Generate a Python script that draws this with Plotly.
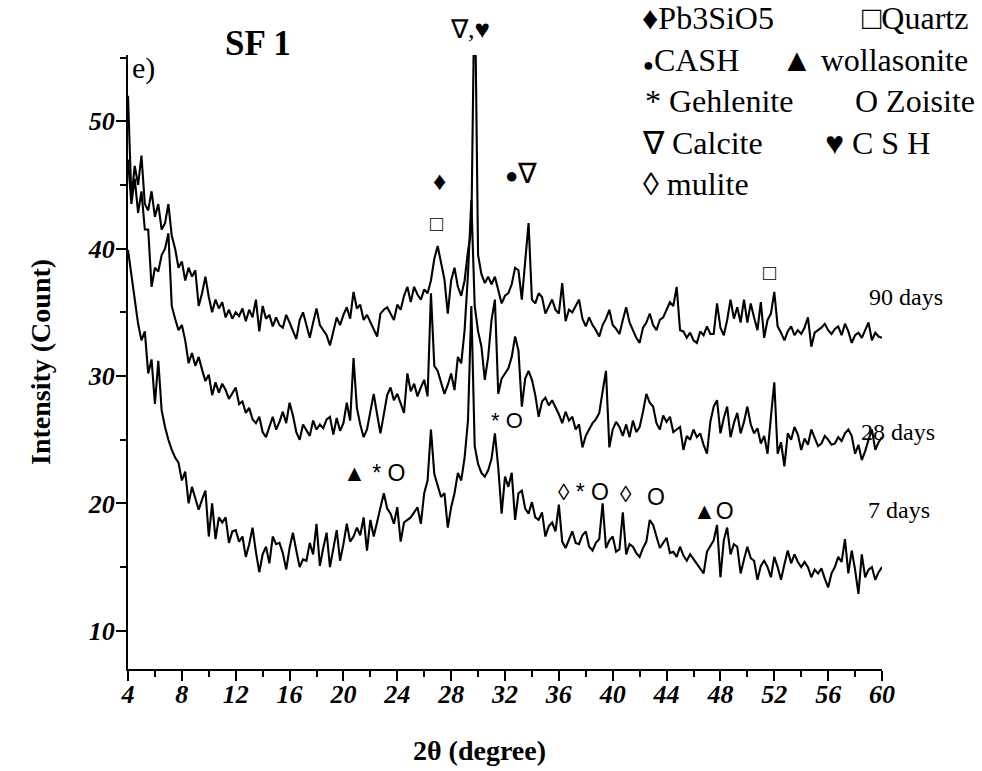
import plotly.graph_objects as go

# 2-theta sampling grid (degrees), 0.25 deg steps from 4 to 60
two_theta = [round(4 + 0.25 * i, 2) for i in range(225)]

# Intensity (Count), 8 values per row (2 degrees per row)
days_90 = [
    52, 44, 46.5, 45, 47.3, 43.5, 43, 44.5,            # 4
    42.5, 43.5, 41.5, 42, 43.5, 41, 40, 38.5,          # 6
    39, 37.5, 38.5, 37.8, 38.3, 35.5, 36.5, 37.8,      # 8
    36.2, 35, 36, 35.3, 35.8, 34.6, 35.2, 34.5,        # 10
    35, 34.7, 35.3, 34.3, 35.2, 34.6, 36, 33.5,        # 12
    35.5, 34.5, 34.8, 33.9, 34.6, 34, 33.8, 34.8,      # 14
    34.2, 33.5, 32.9, 34.4, 35, 34, 33, 34.2,          # 16
    35.3, 34, 33.6, 33.2, 32.4, 33.5, 34.6, 34,        # 18
    34.8, 35.4, 34.5, 36.6, 35.3, 35.6, 34.4, 34.8,    # 20
    34.2, 33.6, 33.1, 34.9, 35.2, 35.4, 34.9, 34.4,    # 22
    35.6, 35.2, 36.3, 37, 35.8, 37, 36.4, 36,          # 24
    36.8, 36.5, 37.5, 39.2, 40.2, 38.8, 37.6, 34.9,    # 26
    37.5, 38.5, 37, 36.3, 37.5, 39.8, 41.5, 62,        # 28
    39.5, 38, 37.3, 37.8, 37.2, 37.8, 36.7, 35.7,      # 30
    36.3, 36.5, 37.2, 38.5, 38.3, 36, 39, 42,          # 32
    36, 35.7, 36.5, 36.2, 34.9, 35.5, 36, 35.2,        # 34
    34.9, 37.3, 34.3, 35.2, 35, 35.5, 36, 34.5,        # 36
    33.9, 34.6, 34, 33.6, 33.1, 34, 34.5, 35.2,        # 38
    34, 33.7, 33.3, 34.4, 35.4, 34.2, 33.6, 33,        # 40
    32.6, 33.8, 34.2, 34.9, 34, 33.6, 34.4, 34.6,      # 42
    35.2, 35.8, 35.5, 37, 33.6, 33.5, 33, 33.4,        # 44
    32.8, 32.6, 33.5, 33.2, 33.9, 33.3, 33.3, 35.7,    # 46
    33.8, 33.2, 34.4, 36, 34.5, 35.4, 34.2, 36,        # 48
    34.2, 35.7, 34.6, 33.6, 35.8, 33, 34.4, 34.9,      # 50
    36.6, 33.9, 33.4, 32.8, 33.5, 33.9, 33.2, 33.6,    # 52
    33.3, 33.8, 34.6, 32.3, 33.4, 33.6, 33.8, 34.1,    # 54
    33.6, 33.3, 33.7, 33.9, 33.2, 34.1, 33.5, 32.6,    # 56
    33.2, 33.4, 33, 33.6, 34.2, 32.8, 33.4, 33.1,      # 58
    33,                                                # 60
]

days_28 = [
    47, 43.5, 45.5, 42.8, 44.5, 41.5, 41.5, 37,        # 4
    38.5, 38.2, 39.5, 40, 41.2, 35.5, 34.5, 33.6,      # 6
    34, 32.8, 31, 31.8, 30.8, 31.5, 30.5, 29.6,        # 8
    30.1, 28.5, 29.5, 28.7, 29.4, 28.9, 28.2, 28.6,    # 10
    29.1, 27.8, 28, 27.1, 27.5, 26.6, 26.3, 26.8,      # 12
    25.6, 25.2, 26.1, 26.8, 25.8, 26.4, 27.2, 26.3,    # 14
    27.9, 26.9, 25.6, 25, 26.2, 25.7, 25.3, 26.5,      # 16
    25.8, 26.2, 25.9, 26.6, 26.8, 25.4, 26.7, 25.7,    # 18
    26.3, 27.9, 26.5, 31.4, 27.5, 26.2, 25.2, 25.8,    # 20
    27.2, 28.6, 27, 25.5, 27, 28.5, 29.1, 28.1,        # 22
    28.6, 27.9, 27.1, 30.2, 28.8, 29.4, 28.4, 29.1,    # 24
    29.7, 28.4, 36.5, 30.8, 30.4, 29.5, 28.6, 29.3,    # 26
    30.2, 28.9, 31.5, 31, 33.6, 38, 43.8, 35.5,        # 28
    33.5, 32.3, 29.7, 31.5, 34.4, 36, 28.6, 29.8,      # 30
    30.2, 30.6, 31.5, 33.1, 32, 27.6, 29.8, 30.4,      # 32
    29.7, 28.5, 26.8, 28, 28.3, 27.7, 28.1, 27.6,      # 34
    27, 26.3, 27.2, 26.5, 26.8, 25.8, 26.2, 24.4,      # 36
    25.3, 25.8, 26.3, 26.6, 27.1, 28.8, 30.4, 24.4,    # 38
    25.8, 26.4, 26, 25.3, 26.2, 25.2, 26.5, 25.6,      # 40
    26, 27.2, 28.6, 27.9, 27.6, 26.3, 25.8, 26.9,      # 42
    26.4, 26.8, 25.6, 25.8, 26, 24.2, 25.3, 25,        # 44
    25.8, 25.2, 25.5, 24.6, 23.9, 26.4, 27.6, 28.1,    # 46
    25.5, 26.7, 27.6, 25.2, 26.3, 27.1, 25.5, 26.4,    # 48
    27.6, 26.2, 25.5, 25.9, 24.7, 25.3, 23.9, 26.8,    # 50
    29.5, 23.9, 24.8, 22.9, 25.5, 25, 26, 25.4,        # 52
    24.2, 25.1, 24.6, 25.8, 25.2, 24.5, 24.7, 25.3,    # 54
    25, 24.6, 24.7, 25.2, 24.9, 25.5, 25.8, 25.3,      # 56
    23.9, 24.6, 23.4, 24.1, 25, 25.8, 24.2, 24.8,      # 58
    25.2,                                              # 60
]

days_7 = [
    39.9, 38, 36.2, 34.1, 32.8, 33.5, 30.2, 31.3,      # 4
    27.8, 31.2, 27.3, 26, 25, 24.2, 23.6, 23.2,        # 6
    21.8, 22.5, 20, 21.3, 20.4, 19.5, 20.3, 21,        # 8
    17.4, 20, 17.2, 18.9, 18.5, 18.9, 16.9, 17.8,      # 10
    17.9, 17, 17.4, 15.8, 16.8, 18.1, 16.2, 14.6,      # 12
    16, 16.6, 15.3, 17.4, 16.8, 16.9, 16.1, 14.8,      # 14
    16.5, 17.7, 16.3, 15, 15.6, 15.5, 16.9, 16,        # 16
    18.4, 15.1, 16.5, 17.7, 15, 16.4, 17.9, 15.5,      # 18
    16.8, 18.4, 17, 17.4, 18.1, 17.5, 18.9, 16.3,      # 20
    18.7, 17.4, 18.6, 19.7, 20.8, 19.6, 19.2, 18.4,    # 22
    19.7, 17, 18.5, 18.7, 18.9, 19.3, 19.7, 18.4,      # 24
    20.8, 21.8, 25.8, 22.3, 21.3, 20.5, 20.8, 18.1,    # 26
    19.7, 20.8, 22.4, 21.8, 23.6, 26.5, 35.5, 24.5,    # 28
    23.1, 22.4, 22.1, 22.6, 23.5, 25.5, 22.8, 19.2,    # 30
    22.1, 21.3, 22.4, 18.7, 20.8, 21, 19.6, 19.2,      # 32
    20.1, 18.9, 18.7, 19.3, 17.4, 18.2, 18.5, 17.8,    # 34
    19.9, 17, 16.5, 17.2, 17.8, 16.9, 16.8, 17.5,      # 36
    17.8, 16.6, 16.3, 16.9, 17.2, 20, 16.5, 17.1,      # 38
    17.4, 16.2, 16.4, 19.3, 16, 16.8, 16.6, 16.1,      # 40
    15.8, 16.5, 17, 18.7, 18.3, 17.4, 16.5, 16.9,      # 42
    17.3, 16.1, 16.2, 15.8, 16.6, 15.9, 15.5, 16,      # 44
    15.6, 15.2, 14.8, 14.5, 16.2, 16.6, 17.1, 18.3,    # 46
    14.2, 17.1, 18.1, 16, 16.8, 16.6, 14.5, 15.6,      # 48
    16.6, 15.7, 15.5, 14, 15.1, 15.5, 15, 14.2,        # 50
    15.8, 15, 14, 15.2, 16.3, 15.3, 16, 15.4,          # 52
    15, 15.4, 15, 14.2, 14.8, 14.5, 14.9, 14.1,        # 54
    13.4, 14.5, 15, 15.8, 15.4, 17.2, 14.5, 16.3,      # 56
    14.8, 12.9, 16, 14.2, 14.8, 15, 14, 14.6,          # 58
    15,                                                # 60
]

series_names = ["90 days", "28 days", "7 days"]
x_ticks = list(range(4, 61, 4))
y_ticks = [10, 20, 30, 40, 50]

SERIF = "Liberation Serif, Times New Roman, serif"
SANS = "Liberation Sans, Arial, sans-serif"

fig = go.Figure()
for name, ys in zip(series_names, [days_90, days_28, days_7]):
    fig.add_trace(go.Scatter(x=two_theta, y=ys, mode="lines", name=name,
                             line=dict(color="black", width=2.1), showlegend=False))

ann = []
def add(text, x, y, size, xref="x", yref="y", xanchor="center", yanchor="middle",
        bold=False, family=SERIF, angle=0):
    ann.append(dict(text=text, x=x, y=y, xref=xref, yref=yref, xanchor=xanchor,
                    yanchor=yanchor, showarrow=False, textangle=angle,
                    font=dict(family=family, size=size, color="black",
                              weight="bold" if bold else "normal")))

# panel labels
add("e)", 0.0199, 0.979, 30, "paper", "paper")
add("SF 1", 0.1724, 1.018, 35, "paper", "paper", bold=True)
add("∇,♥", 0.4536, 1.041, 26, "paper", "paper")

# series labels
add("90 days", 1.0318, 0.606, 24, "paper", "paper")
add("28 days", 1.0212, 0.386, 24, "paper", "paper")
add("7 days", 1.0225, 0.259, 24, "paper", "paper")

# phase legend (text)
rows_y = [1.0603, 0.9919, 0.9251, 0.8567, 0.7899]
LS = 32
add("♦Pb3SiO5", 0.679, rows_y[0], LS, "paper", "paper", xanchor="left")
add("□Quartz", 1.1167, rows_y[0], LS, "paper", "paper", xanchor="right")
add("<span style='font-size:18px'>●</span>CASH", 0.681, rows_y[1], LS, "paper", "paper", xanchor="left")
add("▲ wollasonite", 1.1167, rows_y[1], LS, "paper", "paper", xanchor="right")
add("* Gehlenite", 0.683, rows_y[2], LS, "paper", "paper", xanchor="left")
add("O Zoisite", 1.126, rows_y[2], LS, "paper", "paper", xanchor="right")
add("∇ Calcite", 0.679, rows_y[3], LS, "paper", "paper", xanchor="left")
add("♥ C S H", 1.066, rows_y[3], LS, "paper", "paper", xanchor="right")
add("◊ mulite", 0.681, rows_y[4], LS, "paper", "paper", xanchor="left")

# peak markers (data coordinates)
add("♦", 27.16, 45.3, 26)
add("□", 26.93, 42.0, 22)
add("<span style='font-size:22px'>●</span>∇", 33.17, 45.9, 28)
add("□", 51.67, 38.15, 22)
add("* O", 32.15, 26.5, 22, family=SANS)
add("▲ * O", 22.3, 22.4, 23, family=SANS)
add("◊ * O", 37.8, 20.9, 23, family=SANS)
add("◊", 41.0, 20.7, 23, family=SANS)
add("O", 43.2, 20.5, 23, family=SANS)
add("▲O", 47.5, 19.4, 23, family=SANS)

# axis titles
add("Intensity (Count)", -0.1167, 0.5, 28, "paper", "paper", bold=True, angle=-90)
add("2θ (degree)", 0.4668, -0.132, 28, "paper", "paper", bold=True)

tickfont = dict(family=SERIF, size=26, color="black", weight="bold", style="italic")

fig.update_layout(
    width=982, height=771,
    margin=dict(l=128, r=100, t=55, b=102),
    paper_bgcolor="white", plot_bgcolor="white",
    annotations=ann,
    xaxis=dict(range=[4, 60], tickvals=x_ticks, ticktext=[str(v) for v in x_ticks],
               showgrid=False, zeroline=False, showline=True, linecolor="black",
               linewidth=2, ticks="outside", ticklen=10, tickwidth=2, tickcolor="black",
               tickfont=tickfont, ticklabelstandoff=-9,
               minor=dict(dtick=2, tick0=4, ticks="outside", ticklen=6, tickwidth=2,
                          tickcolor="black", showgrid=False)),
    yaxis=dict(range=[7, 55.2], tickvals=y_ticks, ticktext=[str(v) for v in y_ticks],
               showgrid=False, zeroline=False, showline=True, linecolor="black",
               linewidth=2, ticks="outside", ticklen=10, tickwidth=2, tickcolor="black",
               tickfont=tickfont, ticklabelstandoff=-4,
               minor=dict(dtick=5, tick0=5, ticks="outside", ticklen=6, tickwidth=2,
                          tickcolor="black", showgrid=False)),
)

fig.write_html("out.html")
